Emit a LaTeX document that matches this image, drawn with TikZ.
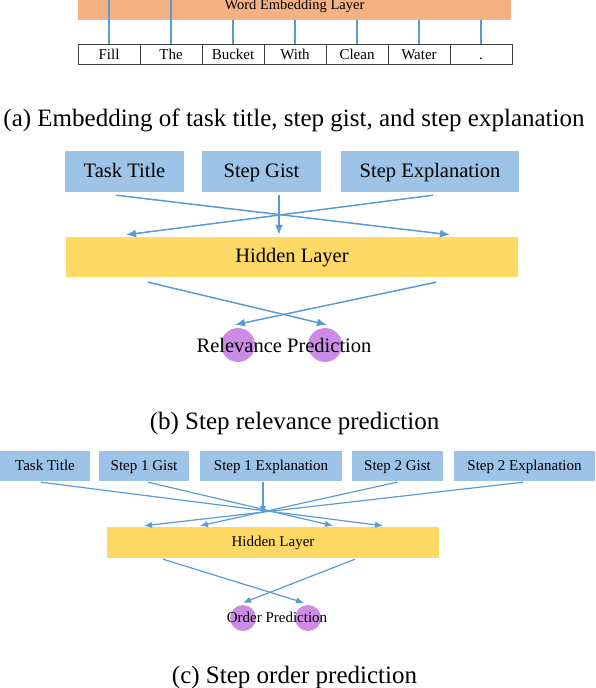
\documentclass[tikz,border=0pt]{standalone}
\usepackage{fontspec}
\setmainfont{Liberation Serif}
\usetikzlibrary{arrows.meta}
\definecolor{embcol}{HTML}{F4B183}
\definecolor{incol}{HTML}{9DC3E6}
\definecolor{hidcol}{HTML}{FFD966}
\definecolor{outcol}{HTML}{CC8CE6}
\definecolor{wirecol}{HTML}{5B9BD5}

\begin{document}
\begin{tikzpicture}[x=1pt,y=-1pt]
\tikzstyle{word}=[draw=black!75,line width=0.9pt,minimum width=62pt,minimum height=19.5pt,inner sep=0pt,text height=12pt,text depth=2.4pt,font=\fontsize{15}{18}\selectfont]
\tikzstyle{embbox}=[fill=embcol,anchor=base,minimum width=433pt,inner xsep=0pt,inner ysep=0pt,text height=29.5pt,text depth=10.5pt,font=\fontsize{14.5}{17}\selectfont]
\tikzstyle{inbox}=[fill=incol,minimum height=41pt,inner sep=0pt,text height=14pt,text depth=3pt,font=\fontsize{20.5}{24}\selectfont]
\tikzstyle{hidbox}=[fill=hidcol,minimum height=40pt,inner sep=0pt,text height=14pt,text depth=3pt,font=\fontsize{20.5}{24}\selectfont]
\tikzstyle{sinbox}=[fill=incol,minimum height=30pt,inner sep=0pt,text height=11pt,text depth=1.6pt,font=\fontsize{15}{18}\selectfont]
\tikzstyle{shidbox}=[fill=hidcol,minimum height=31pt,inner sep=0pt,text height=11pt,text depth=2.6pt,font=\fontsize{15}{18}\selectfont]
\tikzstyle{outcirc}=[circle,fill=outcol,inner sep=0pt]
\tikzstyle{wire}=[draw=wirecol,line width=1.5pt]
\tikzstyle{link}=[draw=wirecol,line width=1.5pt,-{Latex[length=10pt,width=8pt]}]
\tikzstyle{slink}=[draw=wirecol,line width=1.2pt,-{Latex[length=8pt,width=6.5pt]}]
\tikzstyle{caption}=[anchor=base,inner sep=0pt,font=\fontsize{25}{30}\selectfont]

\useasboundingbox (0,0) rectangle (596,688);
\clip (0,0) rectangle (596,688);

% (a) word embedding
\coordinate (top) at (0,-5);
\node[embbox] (emb) at (294.5,9.5) {Word Embedding Layer};
\foreach \w [count=\i] in {Fill,The,Bucket,With,Clean,Water,.}
  \node[word] (w\i) at (47+62*\i,54.5) {\w};
\foreach \i in {1,2}
  \draw[wire] (w\i.north) -- (w\i.north |- top);
\foreach \i in {3,...,7}
  \draw[wire] (w\i.north) -- (w\i.north |- emb.south);
\node[caption] (capa) at (294,126) {(a) Embedding of task title, step gist, and step explanation};

% (b) relevance
\node[inbox,minimum width=119pt] (tt) at (124.5,171.5) {Task Title};
\node[inbox,minimum width=119pt] (sg) at (261.5,171.5) {Step Gist};
\node[inbox,minimum width=178pt] (se) at (430,171.5) {Step Explanation};
\node[hidbox,minimum width=452pt] (hb) at (292,257) {Hidden Layer};
\node[outcirc,minimum size=34pt] (r1) at (238,345) {};
\node[outcirc,minimum size=34pt] (r2) at (325,345) {};
\node[font=\fontsize{20.5}{24}\selectfont,inner sep=0pt] (rp) at (284,345) {Relevance Prediction};

\path ([xshift=-8.5pt,yshift=-3pt]tt.south) edge[link] ([xshift=158pt,yshift=2pt]hb.north);
\path ([xshift=17.5pt,yshift=-3pt]sg.south) edge[link] ([xshift=-13pt,yshift=2pt]hb.north);
\path ([xshift=3pt,yshift=-3pt]se.south) edge[link] ([xshift=-166pt,yshift=2pt]hb.north);
\path ([xshift=-144pt,yshift=-5pt]hb.south) edge[link] ([xshift=2pt,yshift=3pt]r2.north);
\path ([xshift=144pt,yshift=-5pt]hb.south) edge[link] ([xshift=-3pt,yshift=3pt]r1.north);
\node[caption] (capb) at (294.5,429) {(b) Step relevance prediction};

% (c) order
\node[sinbox,minimum width=90pt] (t0) at (45,466) {Task Title};
\node[sinbox,minimum width=90pt] (g1) at (144,466) {Step 1 Gist};
\node[sinbox,minimum width=142pt] (e1) at (271,466) {Step 1 Explanation};
\node[sinbox,minimum width=91pt] (g2) at (397.5,466) {Step 2 Gist};
\node[sinbox,minimum width=141pt] (e2) at (524.5,466) {Step 2 Explanation};
\node[shidbox,minimum width=332pt] (hc) at (273,542.5) {Hidden Layer};
\node[outcirc,minimum size=26pt] (o1) at (243,618) {};
\node[outcirc,minimum size=26pt] (o2) at (308,618) {};
\node[font=\fontsize{15}{18}\selectfont,inner sep=0pt] (op) at (277,617) {Order Prediction};

\path ([xshift=-4pt,yshift=-1pt]t0.south) edge[slink] ([xshift=110pt,yshift=1pt]hc.north);
\path ([xshift=4pt,yshift=-1pt]g1.south) edge[slink] ([xshift=60pt,yshift=1pt]hc.north);
\path ([xshift=-8pt,yshift=-1pt]e1.south) edge[slink] ([xshift=-10pt,yshift=13pt]hc.north);
\path ([xshift=-0.5pt,yshift=-1pt]g2.south) edge[slink] ([xshift=-73pt,yshift=1pt]hc.north);
\path ([xshift=-1.5pt,yshift=-1pt]e2.south) edge[slink] ([xshift=-129pt,yshift=1pt]hc.north);
\path ([xshift=-110pt,yshift=-1pt]hc.south) edge[slink] ([xshift=-4pt,yshift=2pt]o2.north);
\path ([xshift=82pt,yshift=-1pt]hc.south) edge[slink] ([yshift=2pt]o1.north);
\node[caption] (capc) at (294.5,683) {(c) Step order prediction};

\end{tikzpicture}
\end{document}
